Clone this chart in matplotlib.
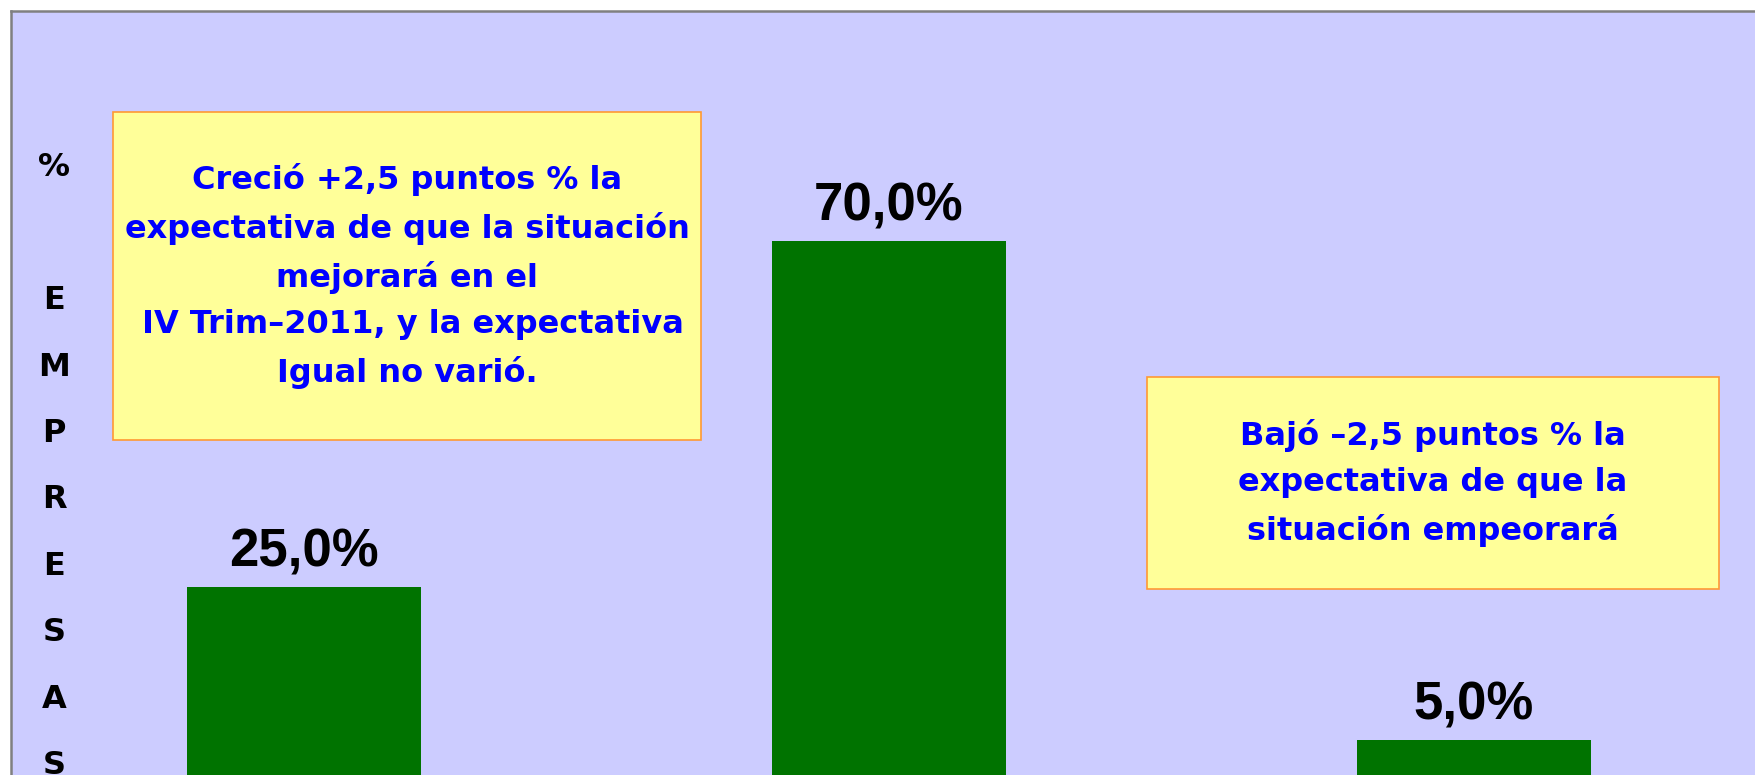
import matplotlib
matplotlib.use("Agg")
import matplotlib.pyplot as plt
from matplotlib.patches import Rectangle

# datos
categorias = ["Mejor", "Igual", "Peor"]
valores = [25.0, 70.0, 5.0]
etiquetas = ["25,0%", "70,0%", "5,0%"]
letras_eje = ["%", "", "E", "M", "P", "R", "E", "S", "A", "S"]
nota_1 = ("Creció +2,5 puntos % la\nexpectativa de que la situación\nmejorará en el\n"
          " IV Trim\u20132011, y la expectativa\nIgual no varió.")
nota_2 = "Bajó \u20132,5 puntos % la\nexpectativa de que la\nsituación empeorará"

W, H = 1755, 775
fig = plt.figure(figsize=(W / 100, H / 100), dpi=100)
fig.patch.set_facecolor("white")

def px(x, y):
    # pixel (desde arriba) -> fraccion de figura
    return x / W, 1 - y / H

ax = fig.add_axes([11 / W, (H - 778.5) / H, 1755.5 / W, 768 / H])
ax.set_facecolor("#CCCCFF")
x = range(len(categorias))
ax.bar(x, valores, width=0.4, color="#007300", zorder=2)
ax.set_xlim(-0.5, 2.5)
ax.set_ylim(0, 100)
ax.set_xticks([])
ax.set_yticks([])
for s in ["left", "top"]:
    ax.spines[s].set_color("#808080")
    ax.spines[s].set_linewidth(1.8)
for s in ["right", "bottom"]:
    ax.spines[s].set_visible(False)

for xi, v, lab in zip(x, valores, etiquetas):
    ax.annotate(lab, (xi, v), xytext=(0, 14.5), textcoords="offset points",
                ha="center", va="baseline", fontsize=38, fontweight="bold",
                family="Liberation Sans", color="black")

# letras verticales del eje
y0 = 168
for i, l in enumerate(letras_eje):
    if l:
        fx, fy = px(54, y0 + i * 66.4)
        fig.text(fx, fy, l, ha="center", va="center", fontsize=23,
                 fontweight="bold", color="black")

# cuadros de nota
def cuadro(x0, y0, x1, y1, texto, fs):
    fx0, fy1 = px(x0, y1)
    fx1, fy0 = px(x1, y0)
    fig.patches.append(Rectangle((fx0, fy1), fx1 - fx0, fy0 - fy1, transform=fig.transFigure,
                                 facecolor="#FFFF99", edgecolor="#FF9933", linewidth=1.2,
                                 zorder=5))
    cx, cy = px((x0 + x1) / 2, (y0 + y1) / 2)
    fig.text(cx, cy, texto, ha="center", va="center", fontsize=fs, color="#0000FF",
             fontweight="bold", linespacing=1.62, zorder=6)

cuadro(113, 112, 701, 440, nota_1, 23)
cuadro(1147, 377, 1719, 589, nota_2, 23)

fig.savefig("out.png", dpi=100, facecolor="white")
